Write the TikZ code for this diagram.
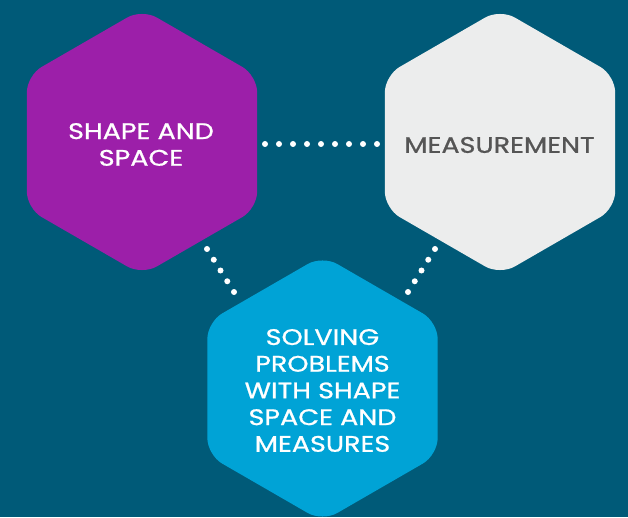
\documentclass[tikz,border=0pt]{standalone}
\usepackage{fontspec}
\setmainfont{Poppins}[FakeStretch=1.2, FakeBold=0.9]
\usetikzlibrary{calc}
\definecolor{bgC}{HTML}{005A78}
\definecolor{purpC}{HTML}{9C1FA9}
\definecolor{greyC}{HTML}{ECEDED}
\definecolor{blueC}{HTML}{00A3D6}
\definecolor{txtC}{HTML}{555555}
\tikzset{
  hexnode/.style={inner sep=0pt, minimum size=0pt},
  hexlabel/.style={align=center, font=\fontsize{22.5}{26.7}\selectfont, inner sep=0pt},
  dotfill/.style={fill=white},
}
\newcommand{\hexpath}[2]{%
  \fill[#1, rounded corners=17pt, shift={(#2)}] (90:133) -- (150:133) -- (210:133) -- (270:133) -- (330:133) -- (30:133) -- cycle;}
\begin{document}
\begin{tikzpicture}[x=1pt,y=1pt]
\fill[bgC] (0,0) rectangle (628,517);
\useasboundingbox (0,0) rectangle (628,517);
\node[hexnode] (shape) at (142,375) {};
\node[hexnode] (meas) at (500,375) {};
\node[hexnode] (solve) at (322.5,128.5) {};
\hexpath{purpC}{shape}
\hexpath{greyC}{meas}
\hexpath{blueC}{solve}
\node[hexlabel, text=white] (shapeT) at (141,372.5) {SHAPE AND\\SPACE};
\node[hexlabel, text=txtC] (measT) at (499.5,372) {MEASUREMENT};
\node[hexlabel, text=white] (solveT) at (322.5,126.5) {SOLVING\\PROBLEMS\\WITH SHAPE\\SPACE AND\\MEASURES};
\coordinate (h1) at (265,373);
\coordinate (h2) at (377,373);
\coordinate (l1) at (207,268);
\coordinate (l2) at (234,225);
\coordinate (r1) at (435,268);
\coordinate (r2) at (408,225);
\foreach \t in {0,0.125,...,1.01} \fill[dotfill] ($(h1)!\t!(h2)$) circle (3pt);
\foreach \t in {0,0.25,...,1.01} \fill[dotfill] ($(l1)!\t!(l2)$) circle (3pt);
\foreach \t in {0,0.25,...,1.01} \fill[dotfill] ($(r1)!\t!(r2)$) circle (3pt);
\end{tikzpicture}
\end{document}
